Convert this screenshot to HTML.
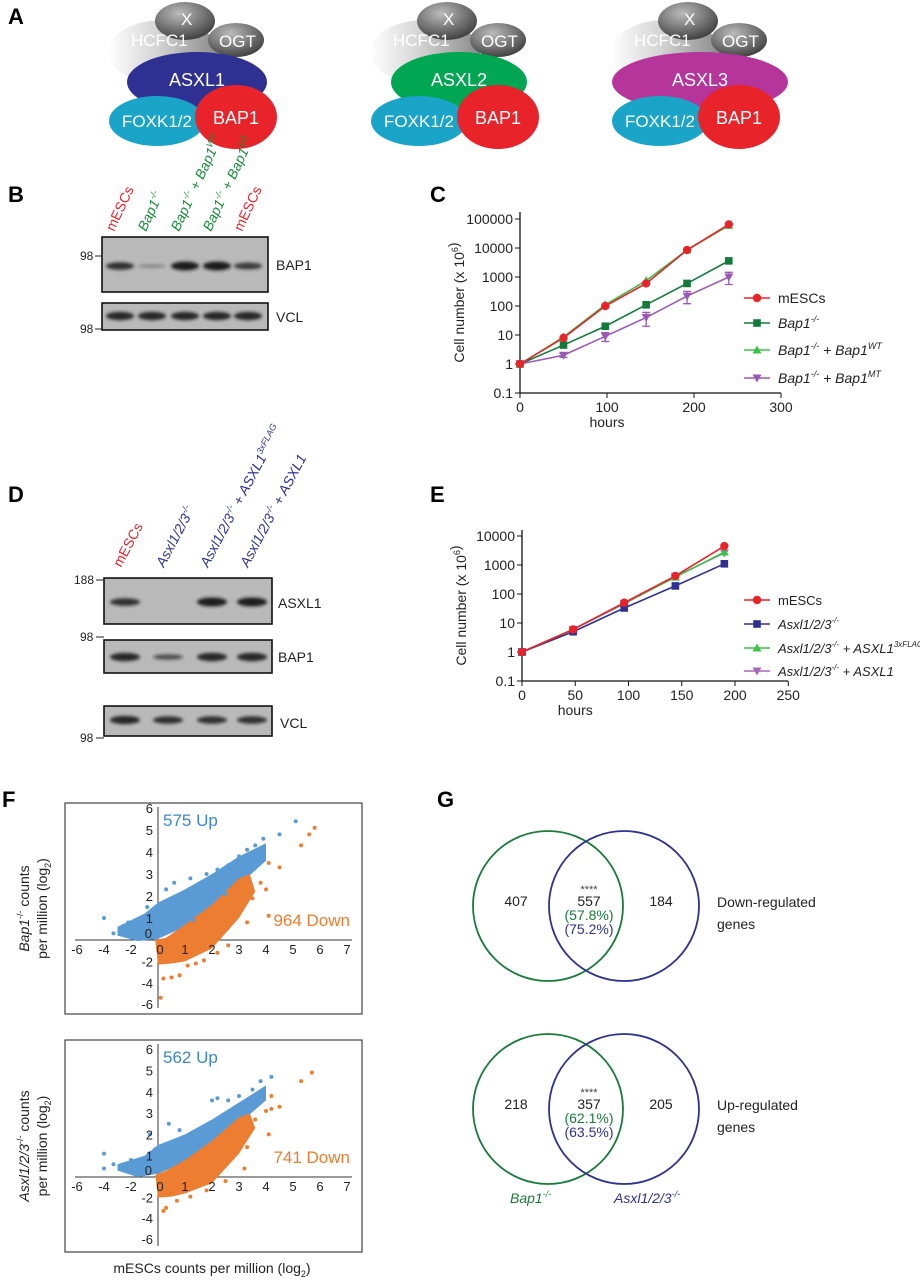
<!DOCTYPE html>
<html><head><meta charset="utf-8"><style>
body{margin:0;background:#fff}
svg{display:block;font-family:"Liberation Sans",sans-serif}
</style></head><body>
<svg id="fig" width="920" height="1280" viewBox="0 0 920 1280">
<defs>
<filter id="bl" x="-20%" y="-100%" width="140%" height="300%"><feGaussianBlur stdDeviation="1.6"/></filter>
<linearGradient id="hc" x1="0" y1="0" x2="1" y2="0"><stop offset="0" stop-color="#fff"/><stop offset="0.45" stop-color="#d4d4d4"/><stop offset="1" stop-color="#8a8a8a"/></linearGradient>
<radialGradient id="xg" cx="0.4" cy="0.3" r="0.8"><stop offset="0" stop-color="#bbb"/><stop offset="1" stop-color="#333"/></radialGradient>
</defs>
<g font-weight="bold" font-size="22">
<text x="8" y="24">A</text><text x="8" y="202">B</text><text x="430" y="202">C</text>
<text x="8" y="502">D</text><text x="430" y="502">E</text><text x="2" y="807">F</text><text x="437" y="807">G</text>
</g>
<g id="panelA"></g>
<g id="blots"></g>
<g id="chartC"></g>
<g id="chartE"></g>
<g id="scatterF"></g>
<g id="vennG"></g>
</svg>
<script>
// ---------- data ----------
const hoursC = [0, 50, 98, 145, 192, 240];
const cMESC = [1, 8, 100, 600, 8500, 65000];
const cBap1 = [1, 4.5, 20, 110, 600, 3600];
const cBapWT = [1, 8.5, 110, 750, 8500, 60000];
const cBapMT = [1, 2, 9, 40, 220, 1000];
const cBapMTerr = [0, 0.3, 3, 20, 100, 450];
const cYTicks = ["0.1","1","10","100","1000","10000","100000"];
const cXTicks = [0, 100, 200, 300];

const hoursE = [0, 48, 96, 144, 190];
const eMESC = [1, 6, 50, 420, 4500];
const eAsxl = [1, 5, 33, 190, 1100];
const eFlag = [1, 6, 48, 380, 2800];
const eAsxl1 = [1, 6, 46, 400, 2600];
const eYTicks = ["0.1","1","10","100","1000","10000"];
const eXTicks = [0, 50, 100, 150, 200, 250];

const fXTicks = [-6,-4,-2,0,1,2,3,4,5,6,7];
const fYTicks = [6,5,4,3,2,1,0,-2,-4,-6];
const upBand1 = [[-3,0.2],[-1.5,-0.1],[0,0.05],[1,0.6],[2,1.5],[3,2.5],[4,3.6],[4,4.4],[3,3.8],[2,3],[1,2.3],[0,1.7],[-1,1.2],[-3,0.6]];
const downBand1 = [[-0.2,0],[0,-2.3],[0.5,-2.2],[1,-2],[2,-0.8],[3,1],[3.6,2.2],[3.4,3],[3,2.8],[2,1.6],[1,0.7],[0.3,0.1]];
const upPts1 = [[-4,1],[-3.3,0.3],[-2.6,0.6],[-2.2,0.8],[-1.8,0.2],[-1.4,0.9],[-0.8,1.5],[-0.4,0.2],[0.3,2.3],[0.6,2.6],[0.9,2.1],[1.2,2.8],[1.5,2.4],[1.8,3],[2.2,3.2],[2.6,3.4],[3,3.8],[3.3,4.1],[3.6,4.3],[3.9,4.6],[4.5,4.8],[5.1,5.4],[1.3,0.9],[2.5,2.1]];
const downPts1 = [[0.2,-3.6],[0.5,-3.5],[0.8,-3.3],[1.1,-2.4],[1.4,-2.2],[1.7,-1.9],[2.2,-1.2],[2.6,-0.5],[3.3,0.8],[2.7,1.3],[3.5,1.9],[3.8,2.6],[4,2.3],[4.1,3.5],[4.5,3.3],[5.3,4.3],[5.6,4.8],[5.8,5.1],[0.1,-5.4],[4.1,1.1],[3.1,2.2],[1.8,1.2]];
const upBand2 = [[-3,0.3],[-1.5,0],[0,0.15],[1,0.7],[2,1.5],[3,2.5],[4,3.6],[4,4.3],[3,3.5],[2,2.7],[1,2],[0,1.5],[-1,1],[-3,0.6]];
const downBand2 = [[-0.2,0.1],[0,-2],[0.5,-1.9],[1,-1.6],[2,-0.6],[3,1.1],[3.6,2.3],[3.4,3],[3,2.8],[2,1.7],[1,0.8],[0.3,0.3]];
const upPts2 = [[-4,1.1],[-4,0.4],[-3.3,0.6],[-2.5,0.3],[-2,0.8],[-1.5,0.2],[-0.6,2],[-0.2,1.3],[0.4,2.5],[0.8,2.2],[1.5,2.1],[2,3.6],[2.2,3.7],[2.6,3.6],[3,3.8],[3.5,4.1],[3.8,4.5],[4.2,4.7],[1.2,1.6],[2.5,2.4]];
const downPts2 = [[0.2,-3.3],[0.3,-3],[0.7,-2.3],[1.2,-1.9],[1.8,-1.3],[2.5,-0.4],[3.2,0.4],[3.3,1.4],[3.6,2.7],[4,3.1],[4.2,3.2],[4.5,3.3],[4.2,3.8],[4.1,2],[5.3,4.5],[5.7,4.9],[2.9,1.6]];

const vennDown = {a:"407", ab:"557", b:"184", pa:"(57.8%)", pb:"(75.2%)"};
const vennUp = {a:"218", ab:"357", b:"205", pa:"(62.1%)", pb:"(63.5%)"};

// ---------- helpers ----------
const NS = "http://www.w3.org/2000/svg";
function mk(parent, tag, attrs, txt){
  const e = document.createElementNS(NS, tag);
  for (const k in attrs) e.setAttribute(k, attrs[k]);
  if (txt !== undefined) e.textContent = txt;
  parent.appendChild(e); return e;
}
function T(parent, x, y, s, size, opt){
  opt = opt || {};
  const e = mk(parent, "text", {x:x, y:y, "font-size":size, fill:opt.fill||"#222", "text-anchor":opt.anchor||"start"});
  if (opt.italic) e.setAttribute("font-style","italic");
  if (opt.tr) e.setAttribute("transform", opt.tr);
  e.innerHTML = s;
  
  
  return e;
}

// ---------- Panel A ----------
const A = document.getElementById("panelA");
const complexes = [
  {cx:0, name:"ASXL1", col:"#2e3192", rx:70},
  {cx:262, name:"ASXL2", col:"#00a651", rx:68},
  {cx:503, name:"ASXL3", col:"#b5359a", rx:88}
];
complexes.forEach((c, i) => {
  const g = mk(A, "g", {transform:"translate("+c.cx+",0)"});
  
  
  mk(g, "ellipse", {cx:163, cy:52, rx:55, ry:32, fill:"url(#hc)"});
  mk(g, "ellipse", {cx:185, cy:21, rx:30, ry:19, fill:"url(#xg)"});
  mk(g, "ellipse", {cx:236, cy:40, rx:28, ry:17, fill:"url(#xg)"});
  mk(g, "ellipse", {cx:197, cy:82, rx:c.rx, ry:30, fill:c.col});
  T(g, 181, 25, "X", 17, {fill:"#fff", name:"x-label"});
  T(g, 131, 46, "HCFC1", 17, {fill:"#fff", name:"hcfc1-label"});
  T(g, 219, 47, "OGT", 17, {fill:"#fff", name:"ogt-label"});
  T(g, 197, 86, c.name, 18, {fill:"#fff", anchor:"middle", name:"asxl-label"});
  mk(g, "ellipse", {cx:157, cy:121, rx:48, ry:25, fill:"#1aa5c8"});
  T(g, 157, 127, "FOXK1/2", 17, {fill:"#fff", anchor:"middle", name:"foxk-label"});
  mk(g, "ellipse", {cx:236, cy:117, rx:41, ry:32, fill:"#e8232a"});
  T(g, 236, 124, "BAP1", 18, {fill:"#fff", anchor:"middle", name:"bap1-label"});
});

// ---------- Blots ----------
const B = document.getElementById("blots");
function blotBox(x1, y1, x2, y2, lanes, ys, intens, w){
  mk(B, "rect", {x:x1, y:y1, width:x2-x1, height:y2-y1, fill:"#b9b9b9", stroke:"#111", "stroke-width":1.6});
  lanes.forEach((lx, i) => {
    if (intens[i] <= 0) return;
    const e = mk(B, "ellipse", {cx:lx, cy:ys, rx:w, ry:3.5*intens[i]+1, fill:"#1a1a1a", opacity:Math.min(1,0.35+intens[i]*0.65), filter:"url(#bl)"});
    
    
  });
}
const lanesB = [120,152,185,217,248];
blotBox(102, 237, 268, 292, lanesB, 266, [0.8,0.1,1,1,0.7], 14);
blotBox(102, 303, 268, 330, lanesB, 316, [0.9,0.9,0.9,0.9,0.9], 14);
T(B, 276, 270, "BAP1", 14, {name:"bap1-blot-label"});
T(B, 276, 322, "VCL", 14, {name:"vcl-blot-label"});
T(B, 80, 260, "98", 12, {name:"mw-98"}); mk(B,"line",{x1:95,y1:256,x2:102,y2:256,stroke:"#222"});
T(B, 80, 333, "98", 12, {name:"mw-98"}); mk(B,"line",{x1:95,y1:329,x2:102,y2:329,stroke:"#222"});
const bLabels = [["mESCs","#e8232a",false],["Bap1<tspan font-size='9' dy='-6'>-/-</tspan>","#1a8a3a",true],["Bap1<tspan font-size='9' dy='-6'>-/-</tspan><tspan dy='6'> + Bap1</tspan><tspan font-size='9' dy='-6'>WT</tspan>","#1a8a3a",true],["Bap1<tspan font-size='9' dy='-6'>-/-</tspan><tspan dy='6'> + Bap1</tspan><tspan font-size='9' dy='-6'>MT</tspan>","#1a8a3a",true],["mESCs","#e8232a",false]];
bLabels.forEach((l,i)=>{ const x=lanesB[i]-6; T(B, x, 232, l[0], 14, {fill:l[1], italic:l[2], tr:"rotate(-65 "+x+" 232)", name:"lane-label"}); });

const lanesD = [125,168,212,252];
blotBox(104, 578, 272, 624, lanesD, 602, [0.8,0,1,1], 15);
blotBox(104, 640, 272, 673, lanesD, 657, [0.9,0.5,0.9,0.9], 15);
blotBox(104, 706, 272, 736, lanesD, 720, [0.9,0.8,0.8,0.8], 15);
T(B, 278, 608, "ASXL1", 14, {name:"asxl1-blot-label"});
T(B, 278, 662, "BAP1", 14, {name:"bap1-blot-label"});
T(B, 280, 728, "VCL", 14, {name:"vcl-blot-label"});
T(B, 74, 584, "188", 12, {name:"mw-188"}); mk(B,"line",{x1:96,y1:580,x2:104,y2:580,stroke:"#222"});
T(B, 80, 641, "98", 12, {name:"mw-98"}); mk(B,"line",{x1:96,y1:637,x2:104,y2:637,stroke:"#222"});
T(B, 80, 742, "98", 12, {name:"mw-98"}); mk(B,"line",{x1:96,y1:738,x2:104,y2:738,stroke:"#222"});
const dLabels = [["mESCs","#e8232a",false],["Asxl1/2/3<tspan font-size='9' dy='-6'>-/-</tspan>","#2e3192",true],["Asxl1/2/3<tspan font-size='9' dy='-6'>-/-</tspan><tspan dy='6'> + ASXL1</tspan><tspan font-size='9' dy='-6'>3xFLAG</tspan>","#2e3192",true],["Asxl1/2/3<tspan font-size='9' dy='-6'>-/-</tspan><tspan dy='6'> + ASXL1</tspan>","#2e3192",true]];
dLabels.forEach((l,i)=>{ const x=lanesD[i]-4; T(B, x, 568, l[0], 14, {fill:l[1], italic:l[2], tr:"rotate(-62 "+x+" 568)", name:"lane-label"}); });

// ---------- growth charts ----------
function markerC(g, shape, x, y, col){
  let e;
  if (shape==="circle") e = mk(g,"circle",{cx:x,cy:y,r:4.2,fill:col});
  else if (shape==="square") e = mk(g,"rect",{x:x-3.8,y:y-3.8,width:7.6,height:7.6,fill:col});
  else if (shape==="tri") e = mk(g,"path",{d:`M${x},${y-4.5}L${x+4.5},${y+3.5}L${x-4.5},${y+3.5}Z`,fill:col});
  else e = mk(g,"path",{d:`M${x},${y+4.5}L${x+4.5},${y-3.5}L${x-4.5},${y-3.5}Z`,fill:col});
  
  
  return e;
}
function growthChart(gid, xs, xScale, yScale, x0, yTop, yBot, xEnd, yTicks, xTicks, series, legendY, legendLabels, lfs){
  const g = document.getElementById(gid);
  mk(g,"line",{x1:x0,y1:yTop,x2:x0,y2:yBot,stroke:"#111","stroke-width":1.3});
  mk(g,"line",{x1:x0,y1:yBot,x2:xEnd,y2:yBot,stroke:"#111","stroke-width":1.3});
  yTicks.forEach(t=>{ const y=yScale(parseFloat(t)); mk(g,"line",{x1:x0-5,y1:y,x2:x0,y2:y,stroke:"#111"}); T(g,x0-7,y+5,t,14,{anchor:"end",name:"y-tick-label"}); });
  xTicks.forEach(t=>{ const x=xScale(t); mk(g,"line",{x1:x,y1:yBot,x2:x,y2:yBot+5,stroke:"#111"}); T(g,x,yBot+19,String(t),14,{anchor:"middle",name:"x-tick-label"}); });
  T(g, xScale(xTicks[1]), yBot+34, "hours", 14, {anchor:"middle", name:"x-axis-title"});
  const my=(yTop+yBot)/2;
  T(g, x0-56, my, "Cell number (x 10<tspan font-size='9' dy='-6'>6</tspan>)", 14, {anchor:"middle", tr:"rotate(-90 "+(x0-56)+" "+my+")", name:"y-axis-title"});
  series.forEach((s,si)=>{
    const pts = xs.map((h,i)=>xScale(h)+","+yScale(s.v[i])).join(" ");
    const pl = mk(g,"polyline",{points:pts,fill:"none",stroke:s.col,"stroke-width":1.6});
    
    
    if (s.err) xs.forEach((h,i)=>{ if(!s.err[i]) return; const x=xScale(h), a=yScale(s.v[i]+s.err[i]), b=yScale(Math.max(s.v[i]-s.err[i],0.2));
      mk(g,"path",{d:`M${x},${a}V${b}M${x-4},${a}H${x+4}M${x-4},${b}H${x+4}`,stroke:s.col,"stroke-width":1.3,fill:"none"}); });
    xs.forEach((h,i)=>markerC(g,s.shape,xScale(h),yScale(s.v[i]),s.col));
    const ly = legendY[si];
    mk(g,"line",{x1:744,y1:ly,x2:770,y2:ly,stroke:s.col,"stroke-width":1.6});
    markerC(g,s.shape,757,ly,s.col);
    T(g,778,ly+5,legendLabels[si][0],lfs,{italic:legendLabels[si][1], name:"legend-entry"});
  });
}
const xC = h => 520 + 0.87*h, yC = v => 364 - 29*Math.log10(v);
growthChart("chartC", hoursC, xC, yC, 520, 212, 393, 781, cYTicks, cXTicks, [
  {v:cBap1, col:"#137a3c", shape:"square"},
  {v:cBapMT, col:"#9b59b6", shape:"down", err:cBapMTerr},
  {v:cBapWT, col:"#3cc24a", shape:"tri"},
  {v:cMESC, col:"#e8232a", shape:"circle"}
], [323, 378, 350, 298], [
  ["Bap1<tspan font-size='9' dy='-6'>-/-</tspan>",true],
  ["Bap1<tspan font-size='9' dy='-6'>-/-</tspan><tspan dy='6'> + Bap1</tspan><tspan font-size='9' dy='-6'>MT</tspan>",true],
  ["Bap1<tspan font-size='9' dy='-6'>-/-</tspan><tspan dy='6'> + Bap1</tspan><tspan font-size='9' dy='-6'>WT</tspan>",true],
  ["mESCs",false]], 14);
const xE = h => 522 + 1.065*h, yE = v => 652 - 29*Math.log10(v);
growthChart("chartE", hoursE, xE, yE, 522, 530, 681, 788, eYTicks, eXTicks, [
  {v:eAsxl1, col:"#a569bd", shape:"down"},
  {v:eFlag, col:"#3cc24a", shape:"tri"},
  {v:eAsxl, col:"#2e3192", shape:"square"},
  {v:eMESC, col:"#e8232a", shape:"circle"}
], [671, 648, 624, 600], [
  ["Asxl1/2/3<tspan font-size='8' dy='-6'>-/-</tspan><tspan dy='6'> + ASXL1</tspan>",true],
  ["Asxl1/2/3<tspan font-size='8' dy='-6'>-/-</tspan><tspan dy='6'> + ASXL1</tspan><tspan font-size='8' dy='-6'>3xFLAG</tspan>",true],
  ["Asxl1/2/3<tspan font-size='8' dy='-6'>-/-</tspan>",true],
  ["mESCs",false]], 13);

// ---------- scatter ----------
const xF = v => v < 0 ? 158 + v*13.5 : 158 + v*27;
function scatter(top, bot, y0, unit, nunit, upBand, downBand, upPts, downPts, upLabel, downLabel, yTitle){
  const g = mk(document.getElementById("scatterF"),"g",{});
  
  
  const yF = v => v >= 0 ? y0 - unit*v : y0 - nunit*v;
  mk(g,"rect",{x:65,y:top,width:297,height:bot-top,fill:"#fff",stroke:"#444","stroke-width":1.2});
  mk(g,"line",{x1:75,y1:y0,x2:352,y2:y0,stroke:"#333"});
  mk(g,"line",{x1:158,y1:top+4,x2:158,y2:bot-6,stroke:"#333"});
  const poly=(band,col)=>{ const p=mk(g,"polygon",{points:band.map(d=>xF(d[0])+","+yF(d[1])).join(" "),fill:col});
      };
  poly(upBand,"#5b9bd5"); poly(downBand,"#ed7d31");
  const dots=(pts,col)=>pts.forEach(d=>{ const c=mk(g,"circle",{cx:xF(d[0]),cy:yF(d[1]),r:2,fill:col});
      });
  dots(upPts,"#5b9bd5"); dots(downPts,"#ed7d31");
  fXTicks.forEach(t=>{ if(t===0) return; T(g,xF(t),y0+14,String(t),13,{anchor:"middle",name:"x-tick-label"}); });
  T(g,160,y0+14,"0",13,{anchor:"middle",name:"x-tick-label"});
  fYTicks.forEach(t=>{ if(t===0){T(g,152,y0-2,"0",13,{anchor:"end",name:"y-tick-label"});return;} T(g,153,yF(t)+5,String(t),13,{anchor:"end",name:"y-tick-label"}); });
  T(g,163,top+23,upLabel,17,{fill:"#3d87c9",name:"up-count"});
  T(g,350,y0-14,downLabel,17,{fill:"#ed7d31",anchor:"end",name:"down-count"});
  const my=(top+bot)/2;
  T(g,29,my,yTitle,14,{anchor:"middle",tr:"rotate(-90 29 "+my+")",name:"y-axis-title"});
  T(g,47,my,"per million (log<tspan font-size='9' dy='4'>2</tspan><tspan dy='-4'>)</tspan>",14,{anchor:"middle",tr:"rotate(-90 47 "+my+")",name:"y-axis-title"});
}
scatter(803, 1014, 940, 22, 10.7, upBand1, downBand1, upPts1, downPts1, "575 Up", "964 Down", "<tspan font-style='italic'>Bap1</tspan><tspan font-size='9' dy='-6'>-/-</tspan><tspan dy='6'>  counts</tspan>");
scatter(1040, 1252, 1177, 21.3, 10.3, upBand2, downBand2, upPts2, downPts2, "562 Up", "741 Down", "<tspan font-style='italic'>Asxl1/2/3</tspan><tspan font-size='9' dy='-6'>-/-</tspan><tspan dy='6'> counts</tspan>");
T(document.getElementById("scatterF"),212,1273,"mESCs counts per million (log<tspan font-size='9' dy='4'>2</tspan><tspan dy='-4'>)</tspan>",14,{anchor:"middle",name:"x-axis-title"});

// ---------- venn ----------
function venn(cy, d, title){
  const g = mk(document.getElementById("vennG"),"g",{});
  
  
  mk(g,"circle",{cx:548,cy:cy,r:75,fill:"none",stroke:"#1a7a3a","stroke-width":1.8});
  mk(g,"circle",{cx:624,cy:cy,r:75,fill:"none",stroke:"#2e3192","stroke-width":1.8});
  T(g,516,cy,d.a,14,{anchor:"middle",name:"count-only-a"});
  T(g,661,cy,d.b,14,{anchor:"middle",name:"count-only-b"});
  T(g,589,cy-13,"****",11,{anchor:"middle",fill:"#444",name:"significance"});
  T(g,589,cy,d.ab,14,{anchor:"middle",name:"count-overlap"});
  T(g,589,cy+14,d.pa,14,{anchor:"middle",fill:"#1a7a3a",name:"percent-a"});
  T(g,589,cy+28,d.pb,14,{anchor:"middle",fill:"#2e3192",name:"percent-b"});
  T(g,717,cy+1,title[0],14,{name:"venn-title"});
  T(g,717,cy+23,title[1],14,{name:"venn-title"});
}
venn(906, vennDown, ["Down-regulated","genes"]);
venn(1109, vennUp, ["Up-regulated","genes"]);
T(document.getElementById("vennG"),510,1203,"Bap1<tspan font-size='9' dy='-6'>-/-</tspan>",14,{italic:true,fill:"#1a7a3a",name:"venn-label-bap1"});
T(document.getElementById("vennG"),614,1203,"Asxl1/2/3<tspan font-size='9' dy='-6'>-/-</tspan>",14,{italic:true,fill:"#2e3192",name:"venn-label-asxl"});
</script>
</body></html>
